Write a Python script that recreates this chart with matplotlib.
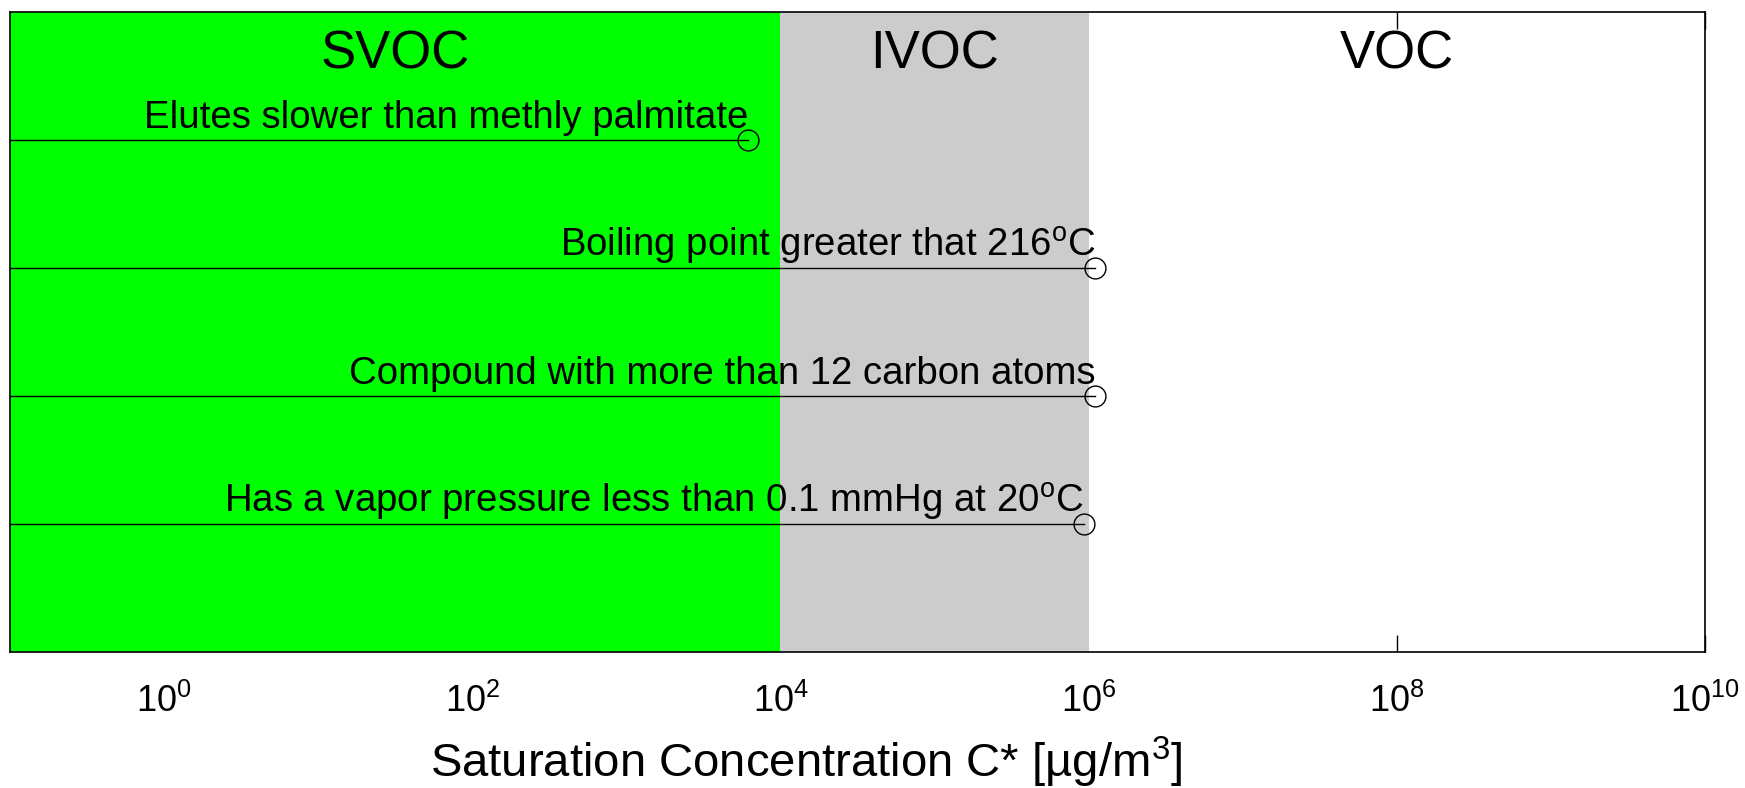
import matplotlib
matplotlib.use("Agg")
import matplotlib.pyplot as plt
import numpy as np

plt.rcParams['font.family'] = ['Liberation Sans', 'DejaVu Sans']
plt.rcParams['mathtext.fontset'] = 'custom'
plt.rcParams['mathtext.rm'] = 'Liberation Sans'
plt.rcParams['mathtext.it'] = 'Liberation Sans'

# volatility classes (lower / upper bounds of C*, ug/m3)
classes = ['SVOC', 'IVOC', 'VOC']
class_lo = [1e-1, 1e4, 1e6]
class_hi = [1e4, 1e6, 1e10]
class_colors = ['#00ff00', '#cccccc', None]

# criteria and where they end on the C* axis
criteria = ['Elutes slower than methly palmitate',
            'Boiling point greater that 216$^{\\mathrm{o}}$C',
            'Compound with more than 12 carbon atoms',
            'Has a vapor pressure less than 0.1 mmHg at 20$^{\\mathrm{o}}$C']
crit_y = [4, 3, 2, 1]
crit_end = [6.2e3, 1.1e6, 1.1e6, 9.3e5]

xticks = [1e0, 1e2, 1e4, 1e6, 1e8, 1e10]
xticklabels = ['$10^{0}$', '$10^{2}$', '$10^{4}$', '$10^{6}$', '$10^{8}$', '$10^{10}$']

fig = plt.figure(figsize=(17.45, 7.88), dpi=100)
ax = fig.add_axes([0.00573, 0.17259, 0.97135, 0.81218])
ax.set_xscale('log')
ax.set_xlim(1e-1, 1e10)
ax.set_ylim(0, 5)

for name, lo, hi, c in zip(classes, class_lo, class_hi, class_colors):
    if c is not None:
        # drawn over the tick marks, like the original
        ax.axvspan(lo, hi, color=c, lw=0, zorder=1.6)
    xc = 10 ** ((np.log10(lo) + np.log10(hi)) / 2)
    ax.text(xc, 4.5625, name, ha='center', va='baseline', fontsize=38, zorder=5)

for txt, y, xe in zip(criteria, crit_y, crit_end):
    ax.plot([1e-1, xe], [y, y], color='black', lw=1, zorder=4)
    ax.plot([xe], [y], marker='o', ms=15, mfc='none', mec='black', mew=1, zorder=4)
    ax.text(xe, y + 0.09, txt, ha='right', va='baseline', fontsize=27.6, zorder=5)

ax.set_xticks(xticks)
ax.set_xticklabels(xticklabels)
ax.minorticks_off()
ax.tick_params(axis='x', which='major', direction='in', length=12, width=1,
               top=True, labelsize=26, pad=23)
# the 1e6 tick sits on the grey edge and is hidden in the original
t6 = ax.xaxis.get_major_ticks()[3]
t6.tick1line.set_visible(False)
t6.tick2line.set_visible(False)
ax.set_yticks([])
for s in ax.spines.values():
    s.set_linewidth(1.2)

ax.set_xlabel('Saturation Concentration C* [µg/m$^{3}$]', fontsize=34)
ax.xaxis.label.set_va('baseline')
ax.xaxis.set_label_coords(0.47, -0.1953)

fig.savefig('out.png', dpi=100)
